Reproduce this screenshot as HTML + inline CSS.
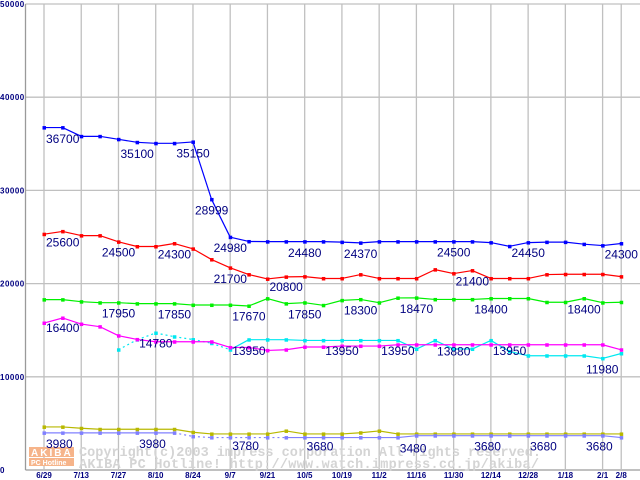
<!DOCTYPE html>
<html><head><meta charset="utf-8"><style>
html,body{margin:0;padding:0;background:#fff;}
svg{display:block;}
</style></head><body>
<svg id="chart" width="640" height="480" xmlns="http://www.w3.org/2000/svg" font-family="Liberation Sans, sans-serif">
<g id="grid"></g>
<g id="wm">
  <rect x="29" y="447" width="45" height="10" fill="#f6b48a"/>
  <text x="31" y="456" font-size="10" font-weight="bold" fill="#fff" letter-spacing="2">AKIBA</text>
  <rect x="29" y="458" width="45" height="8" fill="#f6b48a"/>
  <text x="31" y="465" font-size="7" font-weight="bold" fill="#fff">PC Hotline</text>
  <text x="79" y="456" font-family="Liberation Mono, monospace" font-size="13.5" font-weight="bold" fill="#d4d4d4" textLength="462">Copyright(c)2003 impress corporation All rights reserved.</text>
  <text x="79" y="468" font-family="Liberation Mono, monospace" font-size="13.5" font-weight="bold" fill="#d4d4d4" textLength="460">AKIBA PC Hotline!  http://www.watch.impress.co.jp/akiba/</text>
</g>
<g id="series"></g>
<g id="labels"></g>
</svg>
<script>
const xLabels=["6/29","7/13","7/27","8/10","8/24","9/7","9/21","10/5","10/19","11/2","11/16","11/30","12/14","12/28","1/18","2/1","2/8"];
const yTicks=[0,10000,20000,30000,40000,50000];
const blue=[36740,36740,35800,35800,35480,35160,35050,35050,35200,29030,24980,24520,24500,24500,24500,24500,24450,24370,24500,24500,24500,24500,24500,24500,24400,24000,24400,24450,24450,24230,24080,24300];
const red=[25300,25600,25150,25150,24480,23980,23980,24300,23730,22580,21690,20970,20500,20720,20750,20550,20550,20970,20550,20550,20550,21500,21080,21400,20550,20550,20550,20970,21000,21000,21000,20750];
const green=[18280,18280,18060,17950,17950,17850,17850,17850,17700,17700,17700,17600,18390,17850,17950,17670,18200,18300,17950,18460,18470,18300,18300,18300,18400,18400,18400,18000,18000,18400,17950,18000];
const magenta=[15770,16310,15660,15380,14410,14010,13760,13760,13760,13760,13150,13150,12830,12900,13200,13200,13300,13300,13300,13440,13440,13440,13440,13440,13440,13440,13440,13440,13440,13440,13440,12900];
const cyan=[null,null,null,null,12900,13980,14700,14300,14000,13600,12900,13980,13980,13980,13900,13900,13900,13900,13900,13900,12980,13900,12980,12980,13900,12720,12260,12260,12260,12260,11970,12500];
const yellow=[4620,4620,4480,4370,4370,4370,4370,4370,4050,3870,3870,3870,3870,4190,3870,3870,3870,4000,4190,3870,3870,3870,3870,3870,3870,3870,3870,3870,3870,3870,3870,3870];
const lavender=[3980,3980,3980,3980,3980,3980,3980,3980,3600,3480,3480,3480,3480,3480,3480,3480,3480,3480,3480,3480,3680,3680,3680,3680,3680,3680,3680,3680,3680,3680,3680,3480];
const labelText=["36700","35100","35150","28999","24980","24480","24370","24500","24450","24300","25600","24500","24300","21700","20800","21400","17950","17850","17670","17850","18300","18470","18400","18400","16400","14780","13950","13950","13950","13880","13950","11980","3980","3980","3780","3680","3480","3680","3680","3680"];
const labelIdx=[0,4,7,8,9,13,16,21,25,30,0,3,6,9,12,22,3,6,10,13,16,19,23,28,0,5,10,15,18,21,24,29,0,5,10,14,19,23,26,29];
const labelVal=[36700,35100,35150,28999,24980,24480,24370,24500,24450,24300,25600,24500,24300,21700,20800,21400,17950,17850,17670,17850,18300,18470,18400,18400,16400,14780,13950,13950,13950,13880,13950,11980,3980,3980,3780,3680,3480,3680,3680,3680];

const NS="http://www.w3.org/2000/svg";
const X0=44, DX=18.62, Y0=470, YS=93.2/10000, AX=25.5;
const x=i=>X0+i*DX;
const y=v=>Y0-v*YS;
function mk(tag,attrs,parent){const e=document.createElementNS(NS,tag);for(const k in attrs)e.setAttribute(k,attrs[k]);parent.appendChild(e);return e;}
const grid=document.getElementById('grid');
yTicks.forEach(t=>{
  const l=mk('line',{x1:AX,x2:640,y1:y(t),y2:y(t),stroke:t===0?'#9a9a9a':'#c0c0c0','stroke-width':1.3},grid);
  
  
  const tx=mk('text',{x:0,y:y(t)+3,'font-size':8,'font-weight':'bold',fill:'#000080','letter-spacing':0.5},grid);
  tx.textContent=String(t);
  
  
});
xLabels.forEach((s,k)=>{
  const gx = k<16 ? x(k*2) : x(31);
  const l=mk('line',{x1:gx,x2:gx,y1:y(50000),y2:Y0,stroke:'#c0c0c0','stroke-width':1.3},grid);
  
  
  const tx=mk('text',{x:gx,y:478,'font-size':8,'font-weight':'bold',fill:'#000080','text-anchor':'middle'},grid);
  tx.textContent=s;
  
  
});
const ax=mk('line',{x1:AX,x2:AX,y1:y(50000),y2:Y0,stroke:'#9a9a9a','stroke-width':1.3},grid);



const sg=document.getElementById('series');
function drawSeries(data,color,name,dashFrom,dashTo){
  const g=mk('g',{},sg);
  
  
  for(let i=0;i<data.length-1;i++){
    if(data[i]==null||data[i+1]==null)continue;
    const dashed=(dashFrom!=null&&i>=dashFrom&&i<dashTo);
    const a={x1:x(i),y1:y(data[i]),x2:x(i+1),y2:y(data[i+1]),stroke:color,'stroke-width':1.2};
    if(dashed)a['stroke-dasharray']='2,3';
    const ln=mk('line',a,g);
    
    
  }
  data.forEach((v,i)=>{if(v==null)return;
    const r=mk('rect',{x:x(i)-1.5,y:y(v)-1.5,width:3.5,height:3.5,fill:color},g);
    
    
  });
}
drawSeries(yellow,'#b8b800','series-yellow');
drawSeries(lavender,'#8080ff','series-lavender',7,13);
drawSeries(cyan,'#00e8f0','series-cyan',4,10);
drawSeries(magenta,'#ff00ff','series-magenta');
drawSeries(green,'#00f000','series-green');
drawSeries(red,'#ff0000','series-red');
drawSeries(blue,'#0000ff','series-blue');

const lg=document.getElementById('labels');
labelText.forEach((s,j)=>{
  const t=mk('text',{x:x(labelIdx[j])+2,y:y(labelVal[j])+15,'font-size':12,fill:'#000080'},lg);
  t.textContent=s;
  
  
});
</script>
</body></html>
